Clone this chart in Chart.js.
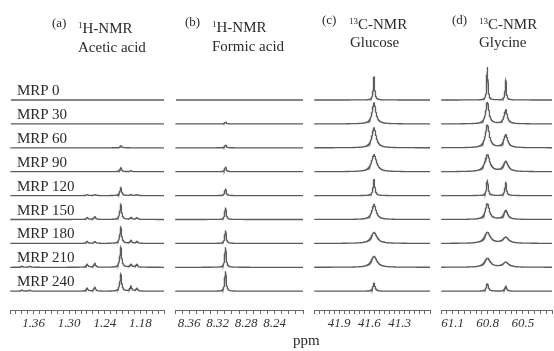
<!DOCTYPE html>
<html>
<head>
<meta charset="utf-8">
<script src="https://cdn.jsdelivr.net/npm/chart.js@4.4.1/dist/chart.umd.min.js"></script>
<style>
  body { margin: 0; background: #fff; }
  #wrap { position: relative; width: 554px; height: 351px; overflow: hidden;
          font-family: "Liberation Serif", "DejaVu Serif", serif; color: #2a2a2a; }
  canvas { position: absolute; top: 0; }
  .t { position: absolute; white-space: nowrap; font-size: 15px; line-height: 15px; }
  .s { font-size: 13px; line-height: 13px; }
  .sup { font-size: 9px; position: relative; top: -5px; }
</style>
</head>
<body>
<div id="wrap">
  <canvas id="panelA" width="158" height="351" style="left:8px"></canvas>
  <canvas id="panelB" width="132" height="351" style="left:173px"></canvas>
  <canvas id="panelC" width="120" height="351" style="left:312px"></canvas>
  <canvas id="panelD" width="115" height="351" style="left:439px"></canvas>

  <div class="t s" style="left:52px;top:16px">(a)</div>
  <div class="t" style="left:78px;top:21px"><span class="sup">1</span>H-NMR</div>
  <div class="t" style="left:78px;top:40px">Acetic acid</div>

  <div class="t s" style="left:185px;top:15px">(b)</div>
  <div class="t" style="left:212px;top:20px"><span class="sup">1</span>H-NMR</div>
  <div class="t" style="left:212px;top:39px">Formic acid</div>

  <div class="t s" style="left:322px;top:13px">(c)</div>
  <div class="t" style="left:349px;top:17px"><span class="sup">13</span>C-NMR</div>
  <div class="t" style="left:350px;top:35px">Glucose</div>

  <div class="t s" style="left:452px;top:13px">(d)</div>
  <div class="t" style="left:479px;top:17px"><span class="sup">13</span>C-NMR</div>
  <div class="t" style="left:479px;top:35px">Glycine</div>

  <div id="labels"></div>
  <div class="t" style="left:293px;top:333px">ppm</div>
</div>

<script>
// samples, top to bottom
const traceLabels = ['MRP 0', 'MRP 30', 'MRP 60', 'MRP 90', 'MRP 120', 'MRP 150', 'MRP 180', 'MRP 210', 'MRP 240'];

// tick labels of each panel (ppm)
const aceticTicks  = [1.36, 1.30, 1.24, 1.18];
const formicTicks  = [8.36, 8.32, 8.28, 8.24];
const glucoseTicks = [41.9, 41.6, 41.3];
const glycineTicks = [61.1, 60.8, 60.5];

// (a) acetic acid: peak shifts (ppm) and heights per sample
const aceticShifts   = [1.380, 1.367, 1.270, 1.257, 1.213, 1.196, 1.186];
const aceticFarA     = [0, 0, 0, 0, 0, 0, 0, 1, 1];
const aceticFarB     = [0, 0, 0, 0, 0, 0, 0, 1, 1];
const aceticSideA    = [0, 0, 0, 0, 1, 2, 2, 3, 3];
const aceticSideB    = [0, 0, 0, 0, 1, 3, 2, 4, 4];
const aceticMain     = [0, 0, 2, 4, 8, 15, 16, 20, 17];
const aceticSideC    = [0, 0, 0, 1, 1, 2, 3, 3, 5];
const aceticSideD    = [0, 0, 0, 0, 1, 2, 2, 3, 3];

// (b) formic acid
const formicShift    = 8.309;
const formicHeights  = [0, 2, 3, 5, 7, 12, 13, 20, 20];

// (c) glucose
const glucoseShift   = 41.555;
const glucoseHeights = [23, 21, 20, 17, 16, 15, 11, 11, 8];
const glucoseWidths  = [0.008, 0.022, 0.025, 0.03, 0.01, 0.025, 0.035, 0.035, 0.012];

// (d) glycine
const glycineShifts   = [60.803, 60.646];
const glycineHeightsA = [33, 22, 23, 17, 16, 16, 11, 9, 8];
const glycineHeightsB = [20, 14, 13, 10, 13, 9, 6, 5, 5];
const glycineWidths   = [0.006, 0.016, 0.02, 0.025, 0.008, 0.02, 0.03, 0.03, 0.01];

// layout
const AXIS_Y = 310;          // canvas y of the ppm axis
const FIRST_BASE = 100;      // canvas y of MRP 0 baseline
const BASE_GAP = 23.9;       // distance between stacked traces

function baseOf(i) { return AXIS_Y - (FIRST_BASE + i * BASE_GAP); }

// lorentzian lines on a sampled ppm grid
function spectrum(min, max, peaks, base) {
  const n = 700;
  const xs = [];
  for (let k = 0; k <= n; k++) xs.push(min + (max - min) * k / n);
  peaks.forEach(p => xs.push(p.at));
  xs.sort((u, v) => u - v);
  return xs.map(x => {
    let y = base;
    peaks.forEach(p => { const d = (x - p.at) / p.w; y += p.h / (1 + d * d); });
    return { x: x, y: y };
  });
}

function makePanel(id, min, max, step, tickLabels, digits, traces) {
  new Chart(document.getElementById(id), {
    type: 'line',
    data: {
      datasets: traces.map(t => ({
        data: t, borderColor: '#5c5c5c', borderWidth: 1.3,
        pointRadius: 0, tension: 0, fill: false
      }))
    },
    options: {
      responsive: false, animation: false, events: [],
      layout: { padding: 0 },
      plugins: { legend: { display: false }, tooltip: { enabled: false } },
      scales: {
        x: {
          type: 'linear', reverse: true, min: min, max: max,
          afterFit: function (s) { s.height = 351 - AXIS_Y; },
          border: { display: true, color: '#6a6a6a', width: 1 },
          grid: { drawOnChartArea: false, drawTicks: true, tickLength: 4, tickColor: '#6a6a6a' },
          ticks: {
            stepSize: step, autoSkip: false, maxRotation: 0, minRotation: 0, padding: 2,
            color: '#333',
            font: { family: 'Liberation Serif', style: 'italic', size: 13 },
            callback: function (v) {
              const hit = tickLabels.find(l => Math.abs(l - v) < step / 10);
              return hit === undefined ? '' : hit.toFixed(digits);
            }
          }
        },
        y: { display: false, min: 0, max: AXIS_Y }
      }
    }
  });
}

const aceticTraces = traceLabels.map((_, i) => spectrum(1.14, 1.40, [
  { at: aceticShifts[0], h: aceticFarA[i], w: 0.002 },
  { at: aceticShifts[1], h: aceticFarB[i], w: 0.002 },
  { at: aceticShifts[2], h: aceticSideA[i], w: 0.0018 },
  { at: aceticShifts[3], h: aceticSideB[i], w: 0.0018 },
  { at: aceticShifts[4], h: aceticMain[i], w: 0.0018 },
  { at: aceticShifts[5], h: aceticSideC[i], w: 0.0018 },
  { at: aceticShifts[6], h: aceticSideD[i], w: 0.0018 }
], baseOf(i)));

const formicTraces = traceLabels.map((_, i) => spectrum(8.20, 8.38, [
  { at: formicShift, h: formicHeights[i], w: 0.0012 }
], baseOf(i)));

const glucoseTraces = traceLabels.map((_, i) => spectrum(41.0, 42.15, [
  { at: glucoseShift, h: glucoseHeights[i], w: glucoseWidths[i] }
], baseOf(i)));

const glycineTraces = traceLabels.map((_, i) => spectrum(60.25, 61.2, [
  { at: glycineShifts[0], h: glycineHeightsA[i], w: glycineWidths[i] },
  { at: glycineShifts[1], h: glycineHeightsB[i], w: glycineWidths[i] }
], baseOf(i)));

makePanel('panelA', 1.14, 1.40, 0.01, aceticTicks, 2, aceticTraces);
makePanel('panelB', 8.20, 8.38, 0.01, formicTicks, 2, formicTraces);
makePanel('panelC', 41.0, 42.15, 0.05, glucoseTicks, 1, glucoseTraces);
makePanel('panelD', 60.25, 61.2, 0.05, glycineTicks, 1, glycineTraces);

// sample names above each trace
const holder = document.getElementById('labels');
traceLabels.forEach((name, i) => {
  const d = document.createElement('div');
  d.className = 't';
  d.textContent = name;
  d.style.left = '17px';
  d.style.top = (FIRST_BASE + i * BASE_GAP - 17) + 'px';
  holder.appendChild(d);
});
</script>
</body>
</html>
